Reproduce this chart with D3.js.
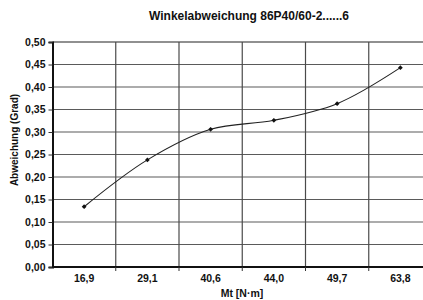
<!DOCTYPE html>
<html>
<head>
<meta charset="utf-8">
<script src="https://cdn.jsdelivr.net/npm/d3@7"></script>
<style>
  html, body { margin: 0; padding: 0; background: #fff; overflow: hidden; }
  svg { display: block; }
  text { font-family: "Liberation Sans Narrow", "Arial Narrow", "Liberation Sans", sans-serif; font-weight: bold; fill: #111; }
</style>
</head>
<body>
<div id="chart"></div>
<script>
// values
const categories = ["16,9", "29,1", "40,6", "44,0", "49,7", "63,8"];
const deviation = [0.134, 0.238, 0.306, 0.326, 0.363, 0.443];
const yTicks = [0, 0.05, 0.10, 0.15, 0.20, 0.25, 0.30, 0.35, 0.40, 0.45, 0.50];

const title = "Winkelabweichung 86P40/60-2......6";
const yTitle = "Abweichung (Grad)";
const xTitle = "Mt [N\u00b7m]";

const width = 423, height = 300;
const margin = {top: 42, left: 52.5, bottom: 33};
const plotRight = 432; // plot runs past the window edge, like the reference

const svg = d3.select('#chart').append('svg')
    .attr('width', width)
    .attr('height', height);

const x = d3.scaleBand()
    .domain(categories)
    .range([margin.left, plotRight]);

const y = d3.scaleLinear()
    .domain([0, 0.5])
    .range([height - margin.bottom, margin.top]);

const fmt = d => d3.format('.2f')(d).replace('.', ',');

// horizontal grid
svg.append('g')
    .selectAll('line')
    .data(yTicks.slice(1))
    .enter()
    .append('line')
    .attr('x1', margin.left).attr('x2', plotRight)
    .attr('y1', d => y(d)).attr('y2', d => y(d))
    .attr('stroke', d => d === 0.5 ? '#222' : '#5a5a5a')
    .attr('stroke-width', 1.2);

// vertical grid at the band edges
svg.append('g')
    .selectAll('line')
    .data(categories.slice(1))
    .enter()
    .append('line')
    .attr('x1', d => x(d)).attr('x2', d => x(d))
    .attr('y1', y(0.5)).attr('y2', y(0))
    .attr('stroke', '#4a4a4a')
    .attr('stroke-width', 1.2);

// y axis
const yAxis = svg.append('g')
    .attr('transform', `translate(${margin.left},0)`)
    .call(d3.axisLeft(y).tickValues(yTicks).tickFormat(fmt).tickSize(4).tickPadding(3));
yAxis.select('.domain').attr('stroke', '#111').attr('stroke-width', 2);
yAxis.selectAll('.tick line').attr('stroke', '#333');
yAxis.selectAll('text').style('font-size', '10.5px').attr('fill', '#111');

// x axis: ticks at band edges, labels in band centers
const xAxis = svg.append('g')
    .attr('transform', `translate(0,${y(0)})`);
xAxis.append('line')
    .attr('x1', margin.left).attr('x2', plotRight)
    .attr('stroke', '#111').attr('stroke-width', 2);
xAxis.selectAll('.edge')
    .data(categories)
    .enter()
    .append('line')
    .attr('class', 'edge')
    .attr('x1', d => x(d) + x.bandwidth()).attr('x2', d => x(d) + x.bandwidth())
    .attr('y1', 0).attr('y2', 4)
    .attr('stroke', '#333');
xAxis.selectAll('.lbl')
    .data(categories)
    .enter()
    .append('text')
    .attr('class', 'lbl')
    .attr('x', d => x(d) + x.bandwidth() / 2)
    .attr('y', 15)
    .attr('text-anchor', 'middle')
    .style('font-size', '10.5px')
    .text(d => d);

// smooth line like the spreadsheet "smoothed line"
const pts = categories.map((c, i) => ({c: c, v: deviation[i]}));
const line = d3.line()
    .x(d => x(d.c) + x.bandwidth() / 2)
    .y(d => y(d.v))
    .curve(d3.curveCatmullRom.alpha(0.5));

svg.append('path')
    .datum(pts)
    .attr('d', line)
    .attr('fill', 'none')
    .attr('stroke', '#222')
    .attr('stroke-width', 1.1);

svg.append('g')
    .selectAll('rect')
    .data(pts)
    .enter()
    .append('rect')
    .attr('x', d => x(d.c) + x.bandwidth() / 2 - 1.7)
    .attr('y', d => y(d.v) - 1.7)
    .attr('width', 3.4).attr('height', 3.4)
    .attr('transform', d => `rotate(45,${x(d.c) + x.bandwidth() / 2},${y(d.v)})`)
    .attr('fill', '#111');

// titles
svg.append('text')
    .attr('x', 249).attr('y', 20)
    .attr('text-anchor', 'middle')
    .style('font-size', '12px')
    .text(title);

svg.append('text')
    .attr('transform', 'translate(18,140) rotate(-90)')
    .attr('text-anchor', 'middle')
    .style('font-size', '10px')
    .text(yTitle);

svg.append('text')
    .attr('x', 242).attr('y', 297)
    .attr('text-anchor', 'middle')
    .style('font-size', '10.5px')
    .text(xTitle);
</script>
</body>
</html>
